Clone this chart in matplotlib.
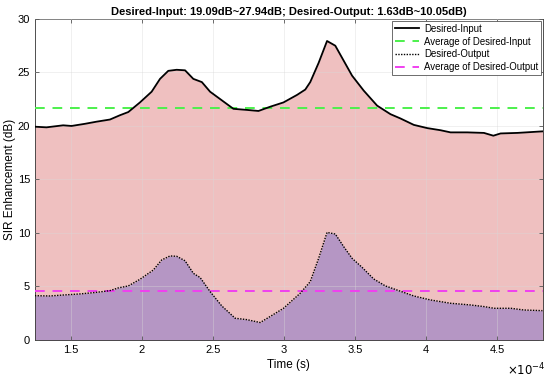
import matplotlib
matplotlib.use("Agg")
import matplotlib.pyplot as plt
from matplotlib.ticker import FuncFormatter
import numpy as np

plt.rcParams['font.family'] = ['Liberation Sans', 'DejaVu Sans']

# Desired-Input (time in units of 1e-4 s, SIR in dB)
t_in = [1.249, 1.331, 1.448, 1.507, 1.601, 1.683, 1.777, 1.847, 1.906, 1.988,
        2.070, 2.129, 2.187, 2.246, 2.305, 2.363, 2.423, 2.481, 2.563, 2.645,
        2.739, 2.821, 2.904, 2.997, 3.092, 3.150, 3.185, 3.244, 3.303, 3.361,
        3.420, 3.479, 3.561, 3.655, 3.749, 3.819, 3.913, 4.007, 4.101, 4.171,
        4.289, 4.406, 4.472, 4.523, 4.641, 4.824]
sir_in = [19.93, 19.87, 20.06, 20.00, 20.20, 20.40, 20.60, 21.00, 21.30, 22.20,
          23.20, 24.40, 25.15, 25.25, 25.20, 24.40, 24.10, 23.20, 22.40, 21.60,
          21.50, 21.40, 21.80, 22.20, 22.90, 23.40, 24.10, 25.90, 27.94, 27.50,
          26.10, 24.70, 23.30, 21.90, 21.10, 20.70, 20.10, 19.80, 19.60, 19.40,
          19.40, 19.35, 19.09, 19.30, 19.35, 19.50]
avg_in = 21.65

# Desired-Output
t_out = [1.249, 1.354, 1.448, 1.565, 1.683, 1.777, 1.835, 1.906, 1.988, 2.082,
         2.141, 2.199, 2.246, 2.305, 2.363, 2.411, 2.481, 2.563, 2.657, 2.739,
         2.833, 2.904, 2.997, 3.114, 3.185, 3.244, 3.303, 3.361, 3.420, 3.479,
         3.549, 3.631, 3.713, 3.807, 3.913, 4.030, 4.171, 4.312, 4.406, 4.477,
         4.595, 4.687, 4.817]
sir_out = [4.14, 4.11, 4.20, 4.30, 4.45, 4.61, 4.86, 5.05, 5.67, 6.54,
           7.48, 7.85, 7.82, 7.40, 6.23, 5.83, 4.52, 3.18, 2.03, 1.90,
           1.63, 2.20, 2.96, 4.36, 5.45, 7.63, 10.05, 9.90, 8.72, 7.63,
           6.79, 5.70, 5.05, 4.61, 4.11, 3.74, 3.43, 3.27, 3.12, 2.96,
           2.96, 2.80, 2.74]
avg_out = 4.61

xticks = [1.5, 2, 2.5, 3, 3.5, 4, 4.5]
yticks = [0, 5, 10, 15, 20, 25, 30]
title = "Desired-Input: 19.09dB~27.94dB; Desired-Output: 1.63dB~10.05dB)"

t_in_s = np.array(t_in) * 1e-4
t_out_s = np.array(t_out) * 1e-4

fig = plt.figure(figsize=(5.5, 3.79), dpi=100)
ax = fig.add_axes([0.0636, 0.103, 0.9234, 0.847])

ax.fill_between(t_in_s, 0, sir_in, color='#efc0c0', linewidth=0, zorder=1)
ax.fill_between(t_out_s, 0, sir_out, color='#b596c4', linewidth=0, zorder=2)

ax.plot(t_in_s, sir_in, color='black', linewidth=1.3, label='Desired-Input', zorder=5)
ax.axhline(avg_in, color='#4cf04c', linestyle=(0, (5, 4)), linewidth=1.4,
           label='Average of Desired-Input', zorder=4)
ax.plot(t_out_s, sir_out, color='black', linestyle=(0, (1, 1)), linewidth=1.0,
        label='Desired-Output', zorder=5)
ax.axhline(avg_out, color='#f040f0', linestyle=(0, (5, 4)), linewidth=1.4,
           label='Average of Desired-Output', zorder=4)

ax.set_xlim(1.25e-4, 4.82e-4)
ax.set_ylim(0, 30)
ax.set_xticks(np.array(xticks) * 1e-4)
ax.set_yticks(yticks)
ax.xaxis.set_major_formatter(FuncFormatter(lambda v, p: f"{v * 1e4:g}"))
ax.text(1.005, -0.095, r'$\times10^{-4}$', transform=ax.transAxes,
        ha='right', va='center', fontsize=8.5)
ax.grid(True, color='#d8d8d8', linewidth=0.6, alpha=0.45, zorder=3)
ax.set_axisbelow(False)
ax.tick_params(direction='in', top=True, right=True, labelsize=8, length=3,
               width=0.6, color='#555555')
for s in ax.spines.values():
    s.set_linewidth(0.6)
    s.set_color('#333333')

ax.set_xlabel('Time (s)', fontsize=8.5, labelpad=3)
ax.set_ylabel('SIR Enhancement (dB)', fontsize=8.5, labelpad=1)
ax.set_title(title, fontsize=8, fontweight='bold', pad=3)

leg = ax.legend(loc='upper right', fontsize=6.9, frameon=True, fancybox=False,
                edgecolor='#555555', framealpha=1, borderaxespad=0.2,
                handlelength=2.5, borderpad=0.3, labelspacing=0.3,
                handletextpad=0.5)
leg.get_frame().set_linewidth(0.6)

fig.savefig('out.png', dpi=100)
